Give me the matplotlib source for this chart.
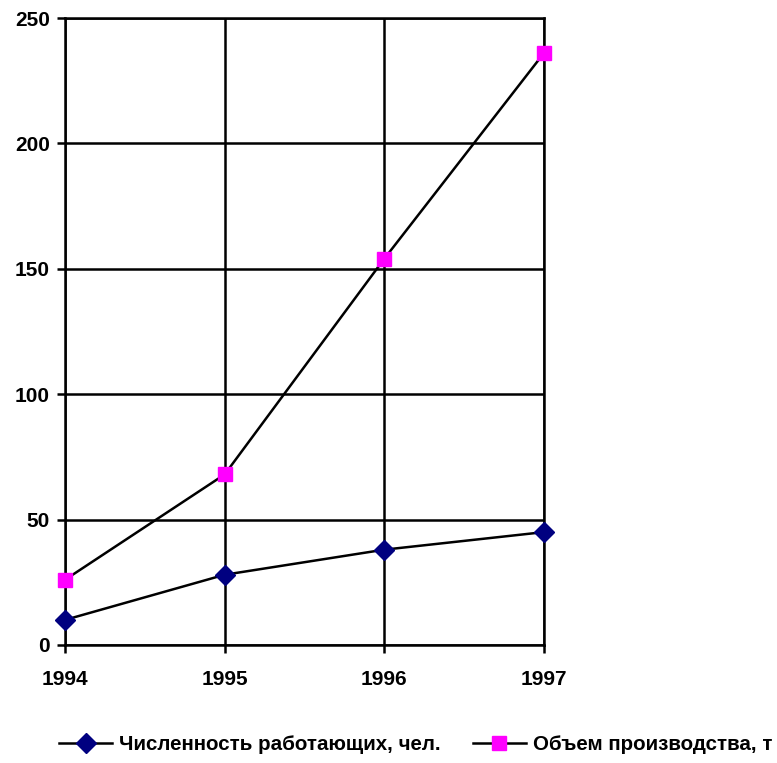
import matplotlib
matplotlib.use("Agg")
import matplotlib.pyplot as plt

years = [1994, 1995, 1996, 1997]
workers = [10, 28, 38, 45]
output = [26, 68, 154, 236]
yticks = [0, 50, 100, 150, 200, 250]

plt.rcParams['font.family'] = ['Liberation Sans', 'DejaVu Sans']
plt.rcParams['font.weight'] = 'bold'

fig = plt.figure(figsize=(7.77, 7.63), dpi=100)
ax = fig.add_axes([0.0837, 0.1547, 0.6163, 0.8217])

ax.plot(years, workers, color='black', lw=1.8, marker='D', markersize=10,
        markerfacecolor='#000080', markeredgecolor='#000080',
        label='Численность работающих, чел.', clip_on=False, zorder=3)
ax.plot(years, output, color='black', lw=1.8, marker='s', markersize=9.5,
        markerfacecolor='#ff00ff', markeredgecolor='#ff00ff',
        label='Объем производства, т', clip_on=False, zorder=3)

ax.set_xlim(years[0], years[-1])
ax.set_ylim(0, 250)
ax.set_xticks(years)
ax.set_yticks(yticks)
ax.grid(True, color='black', lw=1.8)
for s in ax.spines.values():
    s.set_linewidth(1.8)
ax.tick_params(axis='both', length=6, width=1.8, labelsize=15)
ax.tick_params(axis='x', pad=12)
ax.tick_params(axis='y', pad=5)

fig.legend(loc='center', bbox_to_anchor=(0.535, 0.0236), ncol=2, frameon=False,
           fontsize=14.8, handlelength=2.58, columnspacing=1.55, handletextpad=0.34)

fig.savefig('out.png', dpi=100)
